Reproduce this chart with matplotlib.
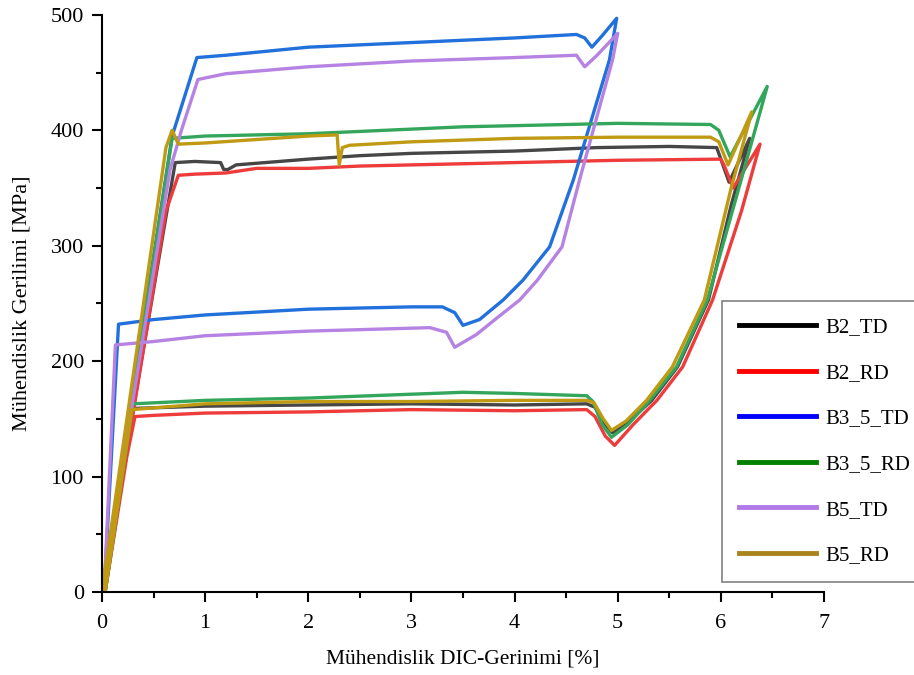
import matplotlib.pyplot as plt
from matplotlib.lines import Line2D
from matplotlib.ticker import MultipleLocator

plt.rcParams['font.family'] = ['Liberation Serif', 'DejaVu Serif']

# Okunan veriler (gerinim [%], gerilim [MPa])
b2_td_x = [0, 0.71, 0.9, 1.15, 1.18, 1.22, 1.3, 2.0, 2.5, 3.0, 4.0, 4.8, 5.5, 5.96, 6.08, 6.28,
           6.1, 5.88, 5.58, 5.33, 5.1, 4.95, 4.88, 4.78, 4.7, 4.0, 3.0, 2.0, 1.0, 0.3, 0.03]
b2_td_y = [0, 372, 373, 372, 366, 366, 370, 375, 378, 380, 382, 385, 386, 385, 355, 393,
           335, 253, 195, 166, 147, 138, 145, 160, 163, 162, 163, 162, 161, 159, 0]

b2_rd_x = [0.02, 0.62, 0.74, 0.9, 1.2, 1.5, 2.0, 2.5, 3.0, 4.0, 5.0, 6.0, 6.03, 6.12, 6.38,
           6.2, 5.92, 5.63, 5.38, 5.15, 4.97, 4.88, 4.78, 4.7, 4.0, 3.0, 2.0, 1.0, 0.5, 0.32, 0.24, 0.03]
b2_rd_y = [0, 330, 361, 362, 363, 367, 367, 369, 370, 372, 374, 375, 370, 350, 388,
           330, 253, 195, 166, 145, 127, 135, 152, 158, 157, 158, 156, 155, 153, 152, 117, 0]

b35_td_x = [0, 0.68, 0.92, 1.2, 2.0, 3.0, 4.0, 4.6, 4.68, 4.75, 4.85, 4.99, 4.92, 4.57, 4.34, 4.08,
            3.89, 3.66, 3.50, 3.42, 3.3, 3.0, 2.0, 1.0, 0.5, 0.16, 0.02]
b35_td_y = [0, 395, 463, 465, 472, 476, 480, 483, 480, 472, 482, 497, 461, 357, 299, 270,
            253, 236, 231, 242, 247, 247, 245, 240, 236, 232, 0]

b35_rd_x = [0, 0.68, 1.0, 2.0, 2.5, 3.5, 4.5, 5.0, 5.9, 5.98, 6.09, 6.45, 6.2, 5.87, 5.57,
            5.31, 5.1, 4.94, 4.85, 4.76, 4.7, 4.0, 3.5, 2.0, 1.0, 0.3, 0.03]
b35_rd_y = [0, 393, 395, 397, 399, 403, 405, 406, 405, 400, 377, 438, 358, 253, 195,
            166, 145, 134, 145, 165, 170, 172, 173, 168, 166, 163, 0]

b5_td_x = [0, 0.66, 0.77, 0.93, 1.2, 2.0, 3.0, 4.0, 4.6, 4.68, 4.8, 5.0, 4.95, 4.63, 4.46, 4.22, 4.05,
           3.81, 3.63, 3.42, 3.34, 3.18, 2.0, 1.0, 0.5, 0.13, 0.02]
b5_td_y = [0, 366, 400, 444, 449, 455, 460, 463, 465, 455, 465, 484, 461, 357, 299, 270, 253,
           236, 223, 212, 225, 229, 226, 222, 217, 214, 0]

b5_rd_x = [0, 0.62, 0.68, 0.74, 1.0, 1.5, 2.0, 2.28, 2.3, 2.33, 2.4, 3.0, 4.0, 5.0, 5.9, 5.98,
           6.07, 6.3, 6.1, 5.84, 5.53, 5.28, 5.08, 4.94, 4.86, 4.77, 4.7, 4.0, 3.0, 2.0, 1.0, 0.29, 0.03]
b5_rd_y = [0, 385, 400, 388, 389, 392, 395, 396, 370, 385, 387, 390, 393, 394, 394, 390,
           370, 416, 350, 253, 195, 166, 148, 140, 150, 164, 166, 166, 165, 165, 163, 158, 0]

etiketler = ['B2_TD', 'B2_RD', 'B3_5_TD', 'B3_5_RD', 'B5_TD', 'B5_RD']
egri_renk = ['#464646', '#ee3b3b', '#2170dc', '#33a65c', '#b683e2', '#bf9a12']
lejant_renk = ['#000000', '#ff0000', '#0000ff', '#008000', '#b07ae8', '#a8841c']

veriler = [(b2_td_x, b2_td_y), (b2_rd_x, b2_rd_y), (b35_td_x, b35_td_y),
           (b35_rd_x, b35_rd_y), (b5_td_x, b5_td_y), (b5_rd_x, b5_rd_y)]

fig = plt.figure(figsize=(9.14, 6.75), dpi=100)
ax = fig.add_axes([0.1116, 0.123, 0.7899, 0.855])

for (x, y), c in zip(veriler, egri_renk):
    ax.plot(x, y, color=c, lw=2.4, solid_joinstyle='round')

ax.set_xlim(0, 7)
ax.set_ylim(0, 500)
ax.xaxis.set_major_locator(MultipleLocator(1))
ax.xaxis.set_minor_locator(MultipleLocator(0.5))
ax.yaxis.set_major_locator(MultipleLocator(100))
ax.yaxis.set_minor_locator(MultipleLocator(50))
ax.spines['top'].set_visible(False)
ax.spines['right'].set_visible(False)
for s in ['left', 'bottom']:
    ax.spines[s].set_linewidth(1.5)
ax.tick_params(which='major', direction='out', length=7, width=1.5, labelsize=16)
ax.tick_params(which='minor', direction='out', length=4, width=1.5)
ax.tick_params(axis='x', which='major', pad=9)
ax.tick_params(axis='y', which='major', pad=6)

ax.set_xlabel('Mühendislik DIC-Gerinimi [%]', fontsize=15.5, labelpad=12)
ax.set_ylabel('Mühendislik Gerilimi [MPa]', fontsize=16, labelpad=14)

tutamac = [Line2D([0], [0], color=c, lw=3.5) for c in lejant_renk]
leg = fig.legend(tutamac, etiketler, loc='lower left', bbox_to_anchor=(722 / 914, 1 - 582 / 675),
                 borderaxespad=0, fontsize=15, handlelength=3.7, handletextpad=0.45,
                 labelspacing=1.25, borderpad=0.8,
                 fancybox=False, framealpha=1, edgecolor='#808080')
leg.get_frame().set_linewidth(1.2)

fig.savefig('out.png', dpi=100)
